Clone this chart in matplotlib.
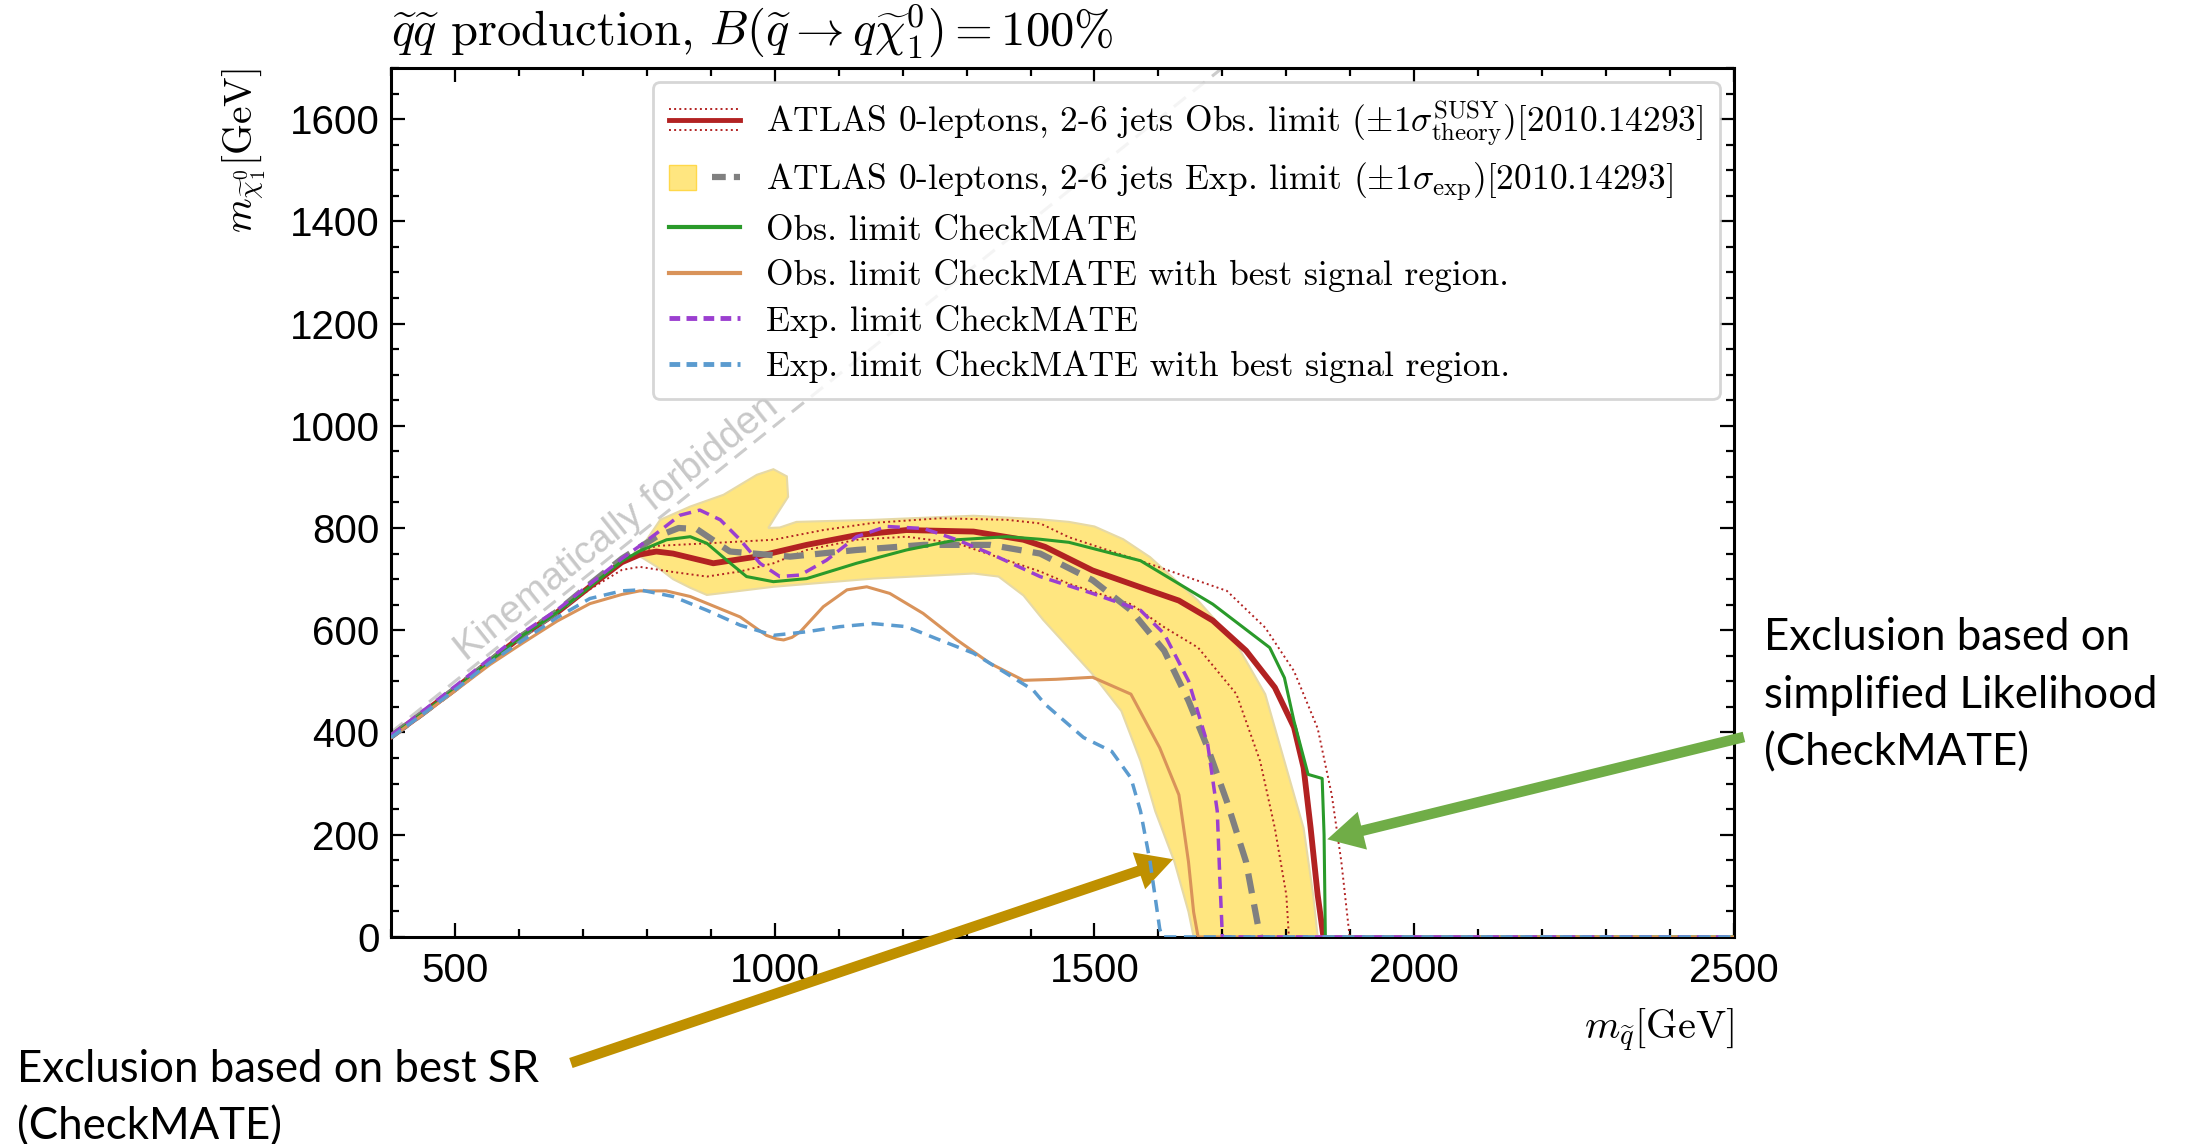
import numpy as np
import matplotlib
matplotlib.use('Agg')
from matplotlib import pyplot as plt
from matplotlib.lines import Line2D
from matplotlib.patches import Patch
from matplotlib.legend_handler import HandlerBase, HandlerTuple

plt.rcParams['mathtext.fontset'] = 'cm'
plt.rcParams['axes.unicode_minus'] = False

# ATLAS observed limit and +-1 sigma theory
atlas_obs_x = [400, 450, 503, 555, 606, 660, 711, 761, 789, 815, 841, 904, 972, 1050, 1128, 1206, 1311, 1389, 1423,
               1497, 1572, 1632, 1685, 1737, 1782, 1812, 1827, 1838, 1849, 1858]
atlas_obs_y = [392, 438, 488, 540, 590, 635, 685, 733, 748, 754, 750, 731, 744, 767, 786, 796, 793, 777, 763,
               717, 684, 658, 619, 560, 488, 410, 331, 213, 82, 0]
atlas_obs_up_x = [400, 450, 503, 555, 606, 660, 711, 761, 815, 894, 998, 1076, 1154, 1258, 1363, 1415, 1460, 1595,
                  1707, 1767, 1812, 1849, 1871, 1886, 1899]
atlas_obs_up_y = [392, 438, 488, 540, 590, 635, 685, 738, 765, 770, 777, 796, 810, 819, 816, 809, 782, 726,
                  677, 605, 520, 408, 278, 147, 0]
atlas_obs_dn_x = [400, 450, 503, 555, 606, 660, 711, 761, 789, 841, 894, 946, 998, 1050, 1128, 1206, 1285, 1363,
                  1415, 1460, 1557, 1609, 1662, 1722, 1759, 1782, 1800, 1804]
atlas_obs_dn_y = [392, 438, 488, 540, 590, 635, 680, 718, 724, 714, 705, 715, 731, 757, 777, 783, 770, 737,
                  715, 691, 651, 606, 566, 475, 344, 213, 82, 0]

# ATLAS expected limit and +-1 sigma band
atlas_exp_x = [400, 450, 503, 555, 606, 660, 711, 761, 815, 850, 878, 930, 1024, 1128, 1233, 1337, 1415, 1497,
               1557, 1609, 1647, 1677, 1707, 1737, 1759]
atlas_exp_y = [392, 438, 488, 540, 590, 637, 690, 740, 783, 800, 798, 754, 744, 757, 767, 767, 750, 698,
               639, 560, 462, 370, 265, 147, 0]
band_up_x = [780, 789, 821, 868, 920, 972, 998, 1019, 1021, 1003, 990, 1008, 1034, 1154, 1311, 1415, 1460, 1500,
             1545, 1587, 1662, 1722, 1767, 1797, 1827, 1842, 1849]
band_up_y = [752, 757, 816, 842, 865, 904, 915, 901, 861, 826, 800, 801, 812, 816, 824, 817, 812, 803,
             778, 743, 658, 573, 475, 344, 213, 82, 0]
band_dn_x = [785, 816, 841, 868, 894, 998, 1154, 1311, 1350, 1389, 1420, 1460, 1497, 1542, 1572, 1595, 1625, 1647, 1655]
band_dn_y = [748, 724, 700, 683, 669, 685, 701, 711, 705, 668, 620, 565, 514, 442, 344, 246, 147, 49, 0]

# CheckMATE
cm_obs_x = [400, 450, 503, 555, 606, 660, 711, 761, 789, 831, 868, 894, 925, 956, 998, 1050, 1128, 1206, 1285,
            1363, 1415, 1460, 1572, 1685, 1774, 1797, 1812, 1834, 1856, 1859, 1861, 2500]
cm_obs_y = [392, 438, 488, 540, 590, 635, 685, 735, 755, 777, 783, 770, 737, 705, 695, 701, 731, 757, 777,
            783, 778, 772, 736, 651, 566, 507, 422, 318, 310, 200, 0, 0]
cm_exp_x = [400, 450, 503, 555, 606, 660, 711, 761, 789, 821, 852, 883, 915, 946, 977, 1008, 1040, 1081, 1128,
            1175, 1233, 1285, 1337, 1415, 1497, 1572, 1609, 1647, 1677, 1692, 1696, 1700, 2500]
cm_exp_y = [394, 442, 493, 545, 595, 640, 690, 740, 765, 795, 825, 835, 816, 777, 731, 705, 708, 737, 783,
            803, 799, 777, 750, 705, 672, 639, 593, 501, 377, 246, 115, 0, 0]
cm_obs_best_x = [400, 450, 503, 555, 606, 660, 711, 761, 789, 830, 868, 946, 987, 1003, 1014, 1027, 1040, 1076,
                 1113, 1144, 1180, 1232, 1285, 1337, 1389, 1440, 1497, 1557, 1602, 1632, 1647, 1655, 1662, 2500]
cm_obs_best_y = [390, 435, 484, 533, 575, 618, 652, 670, 677, 677, 666, 626, 590, 583, 581, 586, 597, 646,
                 679, 685, 672, 633, 581, 535, 502, 504, 508, 475, 370, 278, 147, 49, 0, 0]
cm_exp_best_x = [400, 450, 503, 555, 606, 660, 711, 761, 789, 841, 894, 946, 998, 1050, 1102, 1154, 1206, 1258,
                 1311, 1363, 1404, 1423, 1483, 1527, 1557, 1572, 1587, 1602, 1606, 2500]
cm_exp_best_y = [390, 436, 486, 537, 580, 625, 662, 677, 679, 666, 639, 610, 590, 597, 607, 613, 607, 581,
                 555, 515, 483, 455, 390, 363, 311, 246, 147, 16, 0, 0]

kin_x = [400, 1700]
kin_y = [400, 1700]

red = '#b22222'
gray = '#808080'
green = '#2a9a2a'
orange = '#d9935a'
purple = '#9b3fd0'
blue = '#5b9bcf'
yellow = '#ffe680'


class HandlerObs(HandlerBase):
    def create_artists(self, legend, orig_handle, xdescent, ydescent, width, height, fontsize, trans):
        x0, x1 = -xdescent, width - xdescent
        yc = (height - ydescent) / 2.
        off = 0.42 * height
        arts = [Line2D([x0, x1], [yc, yc], color=red, lw=3.5),
                Line2D([x0, x1], [yc + off, yc + off], color=red, lw=1.4, ls=':'),
                Line2D([x0, x1], [yc - off, yc - off], color=red, lw=1.4, ls=':')]
        for a in arts:
            a.set_transform(trans)
        return arts


fig = plt.figure(figsize=(22, 11.44), dpi=100)
ax = fig.add_axes([0.1777, 0.181, 0.6105, 0.7596])

ax.plot(kin_x, kin_y, color='#cccccc', lw=2.2, dashes=(5, 3), zorder=0.5)
ax.text(753, 800, 'Kinematically forbidden', rotation=45, transform_rotates_text=True,
        rotation_mode='anchor', ha='center', va='center', color='#c8c8c8', fontsize=28,
        family='Liberation Sans', zorder=0.6)

band_x = band_up_x + band_dn_x[::-1]
band_y = band_up_y + band_dn_y[::-1]
ax.fill(band_x, band_y, facecolor=yellow, edgecolor='#e6d9a6', lw=1.5, zorder=1)

ax.plot(atlas_obs_up_x, atlas_obs_up_y, color=red, lw=1.4, ls=':', zorder=3)
ax.plot(atlas_obs_dn_x, atlas_obs_dn_y, color=red, lw=1.4, ls=':', zorder=3)
ax.plot(atlas_obs_x, atlas_obs_y, color=red, lw=4.2, zorder=3)
ax.plot(atlas_exp_x, atlas_exp_y, color=gray, lw=4.5, dashes=(3.2, 1.8), zorder=4)
ax.plot(cm_obs_x, cm_obs_y, color=green, lw=2.2, zorder=5)
ax.plot(cm_obs_best_x, cm_obs_best_y, color=orange, lw=2.2, zorder=5)
ax.plot(cm_exp_x, cm_exp_y, color=purple, lw=2.5, dashes=(3.5, 2), zorder=6)
ax.plot(cm_exp_best_x, cm_exp_best_y, color=blue, lw=2.5, dashes=(3.5, 2.2), zorder=6)

ax.set_xlim(400, 2500)
ax.set_ylim(0, 1700)
ax.set_xticks([500, 1000, 1500, 2000, 2500])
ax.set_xticks(np.arange(400, 2501, 100), minor=True)
ax.set_yticks(np.arange(0, 1601, 200))
ax.set_yticks(np.arange(0, 1701, 50), minor=True)
ax.tick_params(which='both', direction='in', top=True, right=True, width=1.6)
ax.tick_params(which='major', length=10)
ax.tick_params(which='minor', length=6)
ax.tick_params(axis='x', pad=11)
ax.tick_params(axis='y', pad=8)
for lab in ax.get_xticklabels() + ax.get_yticklabels():
    lab.set_fontfamily('Liberation Sans')
    lab.set_fontsize(29)
for sp in ax.spines.values():
    sp.set_linewidth(2.2)

ax.set_xlabel(r'$m_{\widetilde{q}}[\mathrm{GeV}]$', loc='right', fontsize=29, labelpad=12)
ax.set_ylabel(r'$m_{\widetilde{\chi}^0_1}[\mathrm{GeV}]$', loc='top', fontsize=28.5, labelpad=16)
ax.set_title(r'$\widetilde{q}\widetilde{q}$ production, $B(\widetilde{q}\rightarrow q\widetilde{\chi}^0_1)=100\%$',
             loc='left', fontsize=35, family=['cmr10', 'DejaVu Serif'], pad=16)

handles = [
    Line2D([], [], color=red),
    (Patch(facecolor=yellow, edgecolor='#ffd84a', lw=1), Line2D([], [], color=gray, lw=4.5, dashes=(2.2, 1.3))),
    Line2D([], [], color=green, lw=3),
    Line2D([], [], color=orange, lw=3),
    Line2D([], [], color=purple, lw=3.5, dashes=(2.2, 1.3)),
    Line2D([], [], color=blue, lw=3.5, dashes=(2.2, 1.3)),
]
labels = [
    r'ATLAS 0-leptons, 2-6 jets Obs. limit ($\pm1\sigma^{\mathrm{SUSY}}_{\mathrm{theory}}$)[2010.14293]',
    r'ATLAS 0-leptons, 2-6 jets Exp. limit ($\pm1\sigma_{\mathrm{exp}}$)[2010.14293]',
    'Obs. limit CheckMATE',
    'Obs. limit CheckMATE with best signal region.',
    'Exp. limit CheckMATE',
    'Exp. limit CheckMATE with best signal region.',
]
leg = ax.legend(handles, labels, loc='upper right', bbox_to_anchor=(1.0024, 1.004),
                handler_map={handles[0]: HandlerObs(), tuple: HandlerTuple(ndivide=None)},
                prop={'family': ['cmr10', 'DejaVu Serif'], 'size': 25.5},
                handlelength=2.0, handletextpad=0.75, labelspacing=0.35, borderpad=0.45,
                fancybox=True, framealpha=0.8, edgecolor='#cccccc')
leg.get_frame().set_linewidth(2)
leg.set_zorder(10)

# annotation arrows and notes
ax.annotate('', xy=(1864, 191), xycoords='data', xytext=(0.7927, 0.3558), textcoords='figure fraction',
            arrowprops=dict(arrowstyle='simple,head_length=1.3,head_width=1.4,tail_width=0.38',
                            fc='#70ad47', ec='none', mutation_scale=20, shrinkA=0, shrinkB=0),
            annotation_clip=False)
ax.annotate('', xy=(1623, 152), xycoords='data', xytext=(0.2595, 0.0708), textcoords='figure fraction',
            arrowprops=dict(arrowstyle='simple,head_length=1.3,head_width=1.4,tail_width=0.38',
                            fc='#bf9000', ec='none', mutation_scale=20, shrinkA=0, shrinkB=0),
            annotation_clip=False)

fig.text(0.8018, 0.4605, 'Exclusion based on\nsimplified Likelihood\n(CheckMATE)', ha='left', va='top',
         fontsize=31.5, family='Lato', linespacing=1.5)
fig.text(0.0077, 0.0830, 'Exclusion based on best SR\n(CheckMATE)', ha='left', va='top',
         fontsize=31.5, family='Lato', linespacing=1.5)

fig.savefig('out.png', dpi=100)
